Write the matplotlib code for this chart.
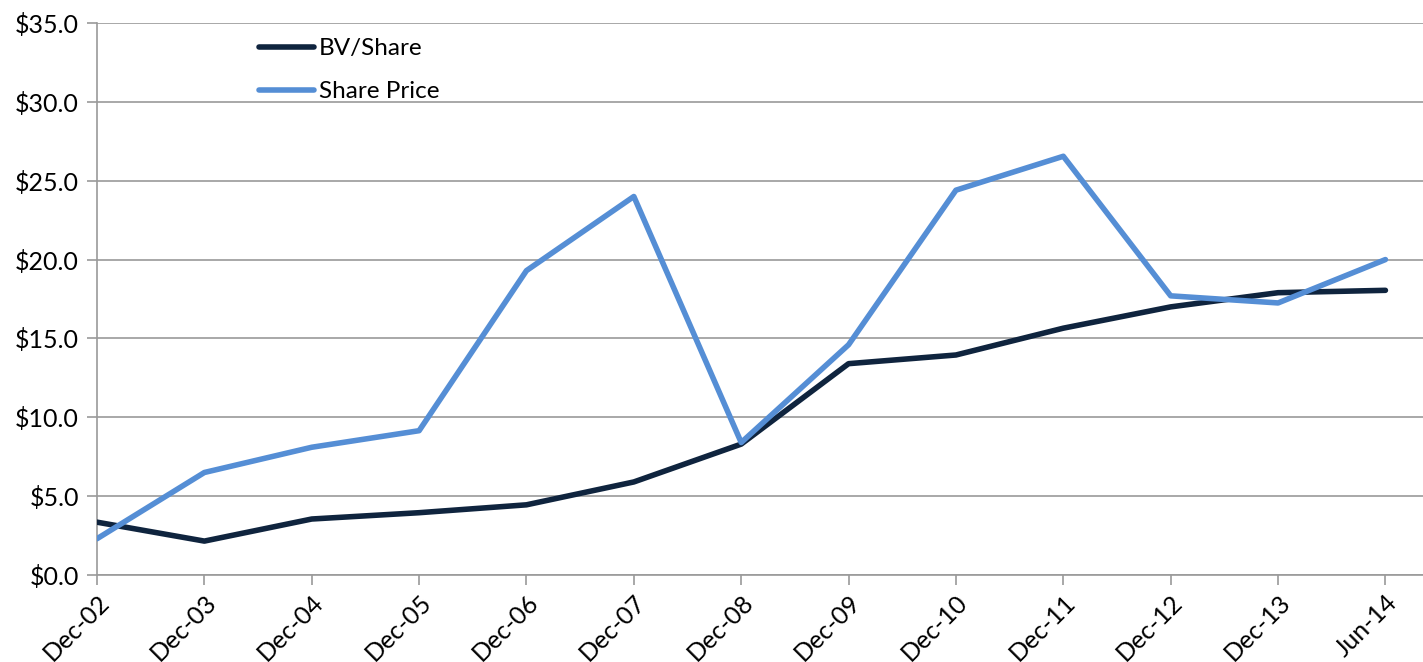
import matplotlib.pyplot as plt
from matplotlib.ticker import FuncFormatter

# ===== 数据 =====
periods = ['Dec-02', 'Dec-03', 'Dec-04', 'Dec-05', 'Dec-06', 'Dec-07', 'Dec-08',
           'Dec-09', 'Dec-10', 'Dec-11', 'Dec-12', 'Dec-13', 'Jun-14']
bv_share = [3.35, 2.15, 3.55, 3.95, 4.45, 5.9, 8.3, 13.4, 13.95, 15.65, 17.0, 17.9, 18.05]
share_price = [2.3, 6.5, 8.1, 9.15, 19.3, 24.0, 8.4, 14.6, 24.4, 26.55, 17.7, 17.25, 20.0]

plt.rcParams['font.family'] = ['Lato', 'DejaVu Sans']

fig = plt.figure(figsize=(14.23, 6.62), dpi=100)
ax = fig.add_axes([97 / 1423, 1 - 575 / 662, 1 - 97 / 1423, (575 - 23) / 662])

x = list(range(len(periods)))
ax.plot(x, bv_share, color='#0F243E', lw=4, label='BV/Share', solid_capstyle='round', zorder=3)
ax.plot(x, share_price, color='#558ED5', lw=4, label='Share Price', solid_capstyle='round', zorder=3)

ax.set_xlim(0, 12.35)
ax.set_ylim(0, 35)
ax.set_yticks(range(0, 36, 5))
ax.yaxis.set_major_formatter(FuncFormatter(lambda v, p: f'${v:.1f}'))
ax.set_xticks(x)
ax.set_xticklabels(periods, rotation=45, ha='right', rotation_mode='anchor')

ax.grid(axis='y', color='#9a9a9a', lw=1.2)
ax.set_axisbelow(True)
for s in ['top', 'right']:
    ax.spines[s].set_visible(False)
for s in ['left', 'bottom']:
    ax.spines[s].set_color('#9a9a9a')
    ax.spines[s].set_linewidth(1.2)
ax.tick_params(axis='both', colors='#9a9a9a', labelcolor='black', labelsize=18,
               length=7, width=1.2)
ax.tick_params(axis='y', pad=6)
ax.tick_params(axis='x', pad=4)

ax.legend(loc='upper left', bbox_to_anchor=(0.106, 1.012), frameon=False, fontsize=17.5,
          handlelength=2.25, handletextpad=0.2, labelspacing=0.9)

plt.savefig('out.png', dpi=100)
